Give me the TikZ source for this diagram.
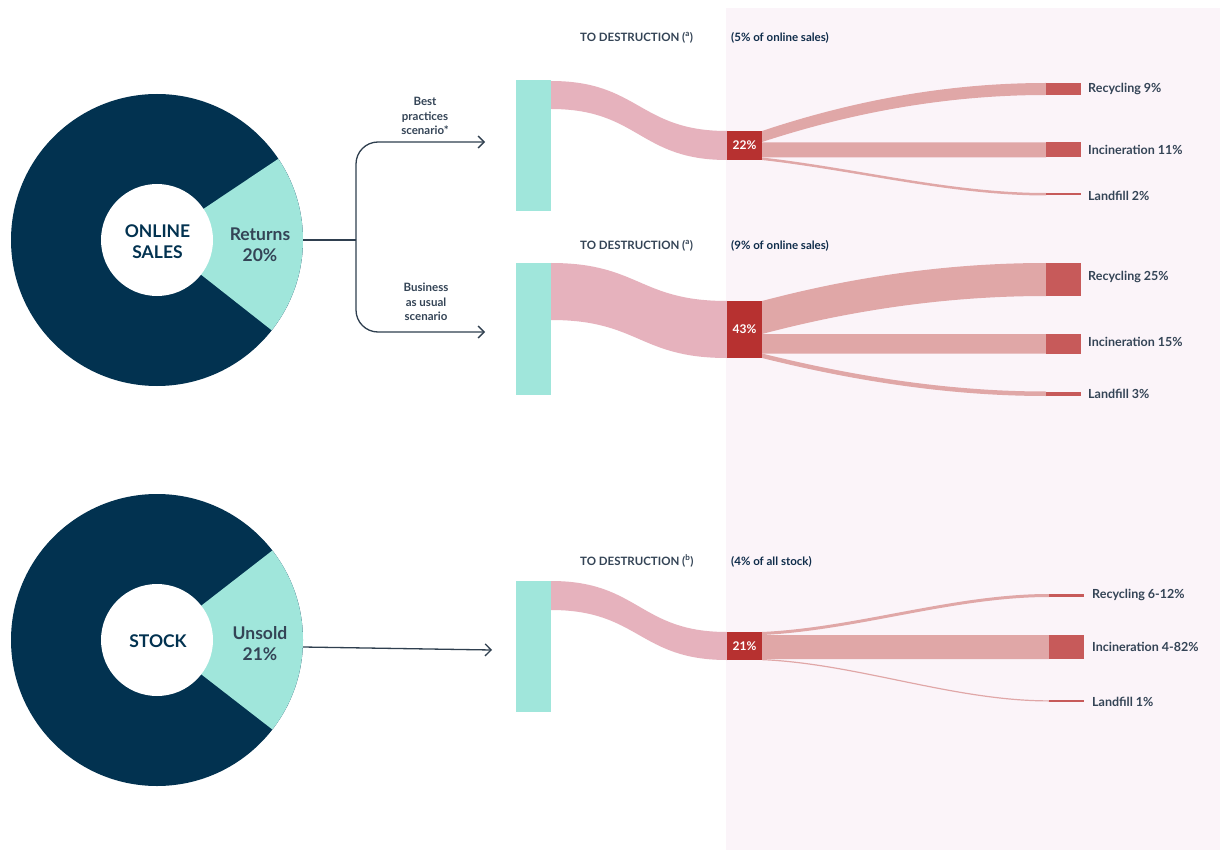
\documentclass[tikz,border=0pt]{standalone}
\usepackage{fontspec}
\setmainfont{Lato}
\usetikzlibrary{arrows.meta}
\definecolor{navy}{RGB}{2,50,80}
\definecolor{tealc}{RGB}{160,230,219}
\definecolor{flowpink}{RGB}{230,178,189}
\definecolor{outflow}{RGB}{224,167,167}
\definecolor{rednode}{RGB}{183,49,48}
\definecolor{endbox}{RGB}{199,90,90}
\definecolor{bgpink}{RGB}{251,244,249}
\definecolor{txtgray}{RGB}{52,68,86}
\definecolor{navytxt}{RGB}{16,45,75}
\definecolor{arrowc}{RGB}{47,63,79}
% main S-shaped ribbon (horizontal tangents at both ends)
\newcommand{\sflow}[7]{%
  \pgfmathsetmacro{\xm}{(#2+#5)/2}%
  \fill[#1] (#2,#3) .. controls (\xm,#3) and (\xm,#6) .. (#5,#6) -- (#5,#7)
    .. controls (\xm,#7) and (\xm,#4) .. (#2,#4) -- cycle;}
% outgoing ribbon: sloped start (factor #8), horizontal end
\newcommand{\oflow}[8]{%
  \pgfmathsetmacro{\xa}{#2+(#5-#2)/3}%
  \pgfmathsetmacro{\xb}{#5-(#5-#2)/3}%
  \pgfmathsetmacro{\ya}{#3+#8*(#6-#3)}%
  \pgfmathsetmacro{\yb}{#4+#8*(#7-#4)}%
  \fill[#1] (#2,#3) .. controls (\xa,\ya) and (\xb,#6) .. (#5,#6) -- (#5,#7)
    .. controls (\xb,#7) and (\xa,\yb) .. (#2,#4) -- cycle;}
\begin{document}
\begin{tikzpicture}[x=1pt,y=-1pt,
  lbl/.style={font=\bfseries\fontsize{12.5}{14}\selectfont, text=txtgray, anchor=base west, inner sep=0},
  hdr/.style={font=\bfseries\fontsize{11.5}{13}\selectfont, text=txtgray, anchor=base west, inner sep=0},
  hdrn/.style={hdr, text=navytxt},
  rnode/.style={fill=rednode, minimum width=35pt, inner sep=0, text=white, font=\bfseries\fontsize{12}{14}\selectfont},
  bar/.style={fill=tealc, minimum width=35pt, inner sep=0},
  scen/.style={font=\bfseries\fontsize{11.5}{14.5}\selectfont, text=txtgray, align=center, inner sep=0},
  big/.style={font=\bfseries\fontsize{17.5}{21}\selectfont, align=center, inner sep=0},
  conn/.style={draw=arrowc, line width=1.3pt},
  arr/.style={conn, -{Straight Barb[length=6pt,width=12pt]}}
]
\useasboundingbox (0,0) rectangle (1220,850);
\fill[white] (0,0) rectangle (1220,850);
\fill[bgpink] (726,8) rectangle (1220,850);

% ---------- donuts ----------
\coordinate (d1) at (157,240);
\fill[navy] (d1) circle[radius=146];
\fill[tealc] (d1) -- ++(38.2:146) arc[start angle=38.2,end angle=-33.8,radius=146] -- cycle;
\fill[white] (d1) circle[radius=56];
\node[big, text=navy] (online) at (157.5,242) {ONLINE\\SALES};
\node[big, text=txtgray] (returns) at (260,244.5) {Returns\\20\%};

\coordinate (d2) at (157,640);
\fill[navy] (d2) circle[radius=146];
\fill[tealc] (d2) -- ++(37.8:146) arc[start angle=37.8,end angle=-37.8,radius=146] -- cycle;
\fill[white] (d2) circle[radius=56];
\node[big, text=navy] (stock) at (158,641) {STOCK};
\node[big, text=txtgray] (unsold) at (260,643.5) {Unsold\\21\%};

% ---------- connectors ----------
\coordinate (retout) at (303,240);
\coordinate (split) at (356,240);
\coordinate (bpend) at (485,142);
\coordinate (buend) at (485,332);
\coordinate (unout) at (303,647);
\coordinate (unend) at (492,650);
\draw[conn] (retout) -- (split);
\draw[arr, rounded corners=22pt] (split) |- (bpend);
\draw[arr, rounded corners=22pt] (split) |- (buend);
\draw[arr] (unout) -- (unend);
\node[scen] (bp) at (425,116) {Best\\practices\\scenario*};
\node[scen] (bu) at (426,302) {Business\\as usual\\scenario};

% ---------- top sankey ----------
\node[hdr] (h1) at (580,41.2) {TO DESTRUCTION (\textsuperscript{a})};
\node[hdrn] (h1b) at (731,41.2) {(5\% of online sales)};
\node[bar, minimum height=131pt] (b1) at (533.5,145.5) {};
\sflow{flowpink}{551}{81}{109}{727}{131}{160}
\oflow{outflow}{762}{131}{142}{1046}{83}{95}{0.66}
\oflow{outflow}{762}{142.5}{157.5}{1046}{142.5}{157.5}{0}
\oflow{outflow}{762}{157.5}{160}{1046}{193}{195.5}{0.3}
\fill[endbox] (1046,83) rectangle (1081,95);
\fill[endbox] (1046,142.5) rectangle (1081,157.5);
\fill[endbox] (1046,193) rectangle (1081,195.5);
\node[rnode, minimum height=29pt] (n1) at (744.5,145.5) {22\%};
\node[lbl] (r1) at (1088,92.5) {Recycling 9\%};
\node[lbl] (i1) at (1088,154.5) {Incineration 11\%};
\node[lbl] (l1) at (1088,200.5) {Landfill 2\%};

% ---------- middle sankey ----------
\node[hdr] (h2) at (580,249.2) {TO DESTRUCTION (\textsuperscript{a})};
\node[hdrn] (h2b) at (731,249.2) {(9\% of online sales)};
\node[bar, minimum height=132pt] (b2) at (533.5,329) {};
\sflow{flowpink}{551}{263}{320}{727}{301}{358}
\oflow{outflow}{762}{301}{334}{1046}{263}{296}{0.66}
\oflow{outflow}{762}{334}{353.5}{1046}{334}{353.5}{0}
\oflow{outflow}{762}{353.5}{358}{1046}{391.5}{396}{0.62}
\fill[endbox] (1046,263) rectangle (1081,296);
\fill[endbox] (1046,334) rectangle (1081,353.5);
\fill[endbox] (1046,391.5) rectangle (1081,396);
\node[rnode, minimum height=57pt] (n2) at (744.5,329.5) {43\%};
\node[lbl] (r2) at (1088,280.5) {Recycling 25\%};
\node[lbl] (i2) at (1088,346.5) {Incineration 15\%};
\node[lbl] (l2) at (1088,398.5) {Landfill 3\%};

% ---------- bottom sankey ----------
\node[hdr] (h3) at (580,565.2) {TO DESTRUCTION (\textsuperscript{b})};
\node[hdrn] (h3b) at (731,565.2) {(4\% of all stock)};
\node[bar, minimum height=131pt] (b3) at (533.5,646.5) {};
\sflow{flowpink}{551}{581}{610}{727}{632}{660}
\oflow{outflow}{762}{632}{635}{1049}{594}{597}{0.12}
\oflow{outflow}{762}{635}{659}{1049}{635}{659}{0}
\oflow{outflow}{762}{659}{660.2}{1049}{700.3}{701.5}{0.1}
\fill[endbox] (1049,594) rectangle (1084,597);
\fill[endbox] (1049,635) rectangle (1084,659);
\fill[endbox] (1049,700.3) rectangle (1084,701.5);
\node[rnode, minimum height=28pt] (n3) at (744.5,646) {21\%};
\node[lbl] (r3) at (1092,598.5) {Recycling 6-12\%};
\node[lbl] (i3) at (1092,651.5) {Incineration 4-82\%};
\node[lbl] (l3) at (1092,706.5) {Landfill 1\%};
\end{tikzpicture}
\end{document}
